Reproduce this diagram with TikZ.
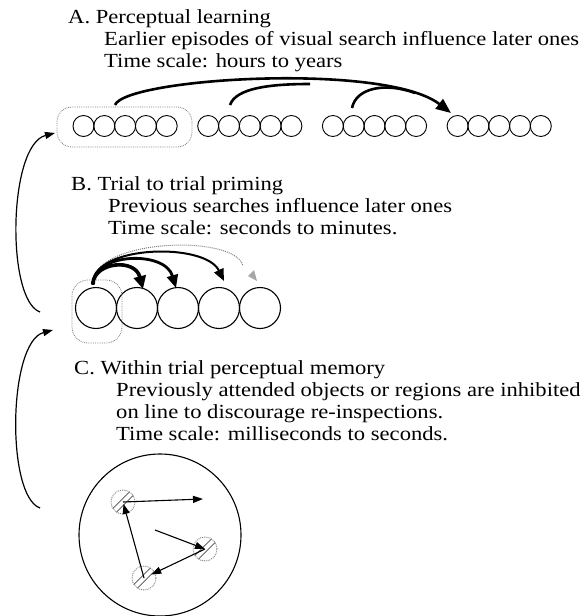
\documentclass[tikz,border=0pt]{standalone}
\usepackage{fontspec}
\setmainfont{Liberation Serif}[FakeStretch=1.13]
\usetikzlibrary{arrows.meta}
\tikzset{
  txt/.style={anchor=base west, inner sep=0pt, font=\fontsize{20}{24}\selectfont},
  smallc/.style={circle, draw, line width=0.9pt, minimum size=21pt, inner sep=0pt},
  bigc/.style={circle, draw, line width=1.1pt, minimum size=41pt, inner sep=0pt},
  dotbox/.style={draw=gray, densely dotted, line width=0.8pt, rounded corners=15pt, inner sep=0pt},
  spot/.style={circle, draw=gray, densely dotted, line width=0.9pt, minimum size=24pt, inner sep=0pt},
  arcA/.style={line width=2.6pt},
  carrow/.style={line width=1.1pt, -{Triangle[length=10pt,width=7pt]}},
  sidearrow/.style={line width=1.2pt, -{Triangle[length=10pt,width=7pt]}},
  hatchband/.pic={
    \draw[gray!60!black, line width=0.7pt] (-6.5,10.1) -- (10.1,-6.5);
    \draw[gray!60!black, line width=0.7pt] (-10.1,6.5) -- (6.5,-10.1);
  }
}
\begin{document}
\begin{tikzpicture}[x=1pt,y=-1pt]
\useasboundingbox (0,0) rectangle (586,616);
\fill[white] (0,0) rectangle (586,616);

% ---------- A ----------
\node[txt] (tA1) at (68,23) {A. Perceptual learning};
\node[txt] (tA2) at (104,45) {Earlier episodes of visual search influence later ones};
\node[txt] (tA3) at (104,67) {Time scale: hours to years};

\foreach \g in {0,...,3}
  \foreach \i in {0,...,4}
    \node[smallc] (a\g\i) at ({83.5+124.7*\g+20.8*\i},126) {};

\node[dotbox, minimum width=135pt, minimum height=40pt] (boxA) at (124.5,127) {};

\coordinate (sA1) at (115,105);
\coordinate (sA2) at (230,105);
\coordinate (sA3) at (352,108);
\coordinate (tipA) at (451,113);
\draw[arcA] (sA2) .. controls (236,88) and (270,84) .. (310,84);
\draw[arcA] (sA3) .. controls (356,88) and (385,82) .. (415,93);
\draw[arcA, -{Triangle[length=15pt,width=12pt]}] (sA1) .. controls (126,78) and (385,62) .. (tipA);

% ---------- B ----------
\node[txt] (tB1) at (71,190) {B. Trial to trial priming};
\node[txt] (tB2) at (108,212) {Previous searches influence later ones};
\node[txt] (tB3) at (108,234) {Time scale: seconds to minutes.};

\foreach \i in {0,...,4}
  \node[bigc] (b\i) at ({96+41*\i},308) {};

\node[dotbox, rounded corners=16pt, minimum width=50pt, minimum height=63pt] (boxB) at (97,311.5) {};

\coordinate (src) at (93,283);
\coordinate (tB4) at (243,266);
\draw[gray, densely dotted, line width=1pt] (src) .. controls (94,238) and (236,234) .. (tB4);
\fill[gray!70] (257,281) -- (248,276) -- (254,270) -- cycle;
\draw[line width=2pt, -{Triangle[length=12pt,width=10pt]}] (src) .. controls (94,245) and (205,242) .. (224,281);
\draw[line width=2.8pt, -{Triangle[length=13pt,width=11pt]}] (src) .. controls (94,253) and (165,250) .. (176,288);
\draw[line width=3.6pt, -{Triangle[length=13pt,width=12pt]}] (src) .. controls (95,262) and (135,258) .. (143,289);
\fill (src) circle (2.2);

% ---------- C ----------
\node[txt] (tC1) at (74,374) {C. Within trial perceptual memory};
\node[txt] (tC2) at (116,396) {Previously attended objects or regions are inhibited};
\node[txt] (tC3) at (116,418) {on line to discourage re-inspections.};
\node[txt] (tC4) at (116,440) {Time scale: milliseconds to seconds.};

\node[circle, draw, line width=1.1pt, minimum size=162pt, inner sep=0pt] (bigC) at (160,535) {};

\node[spot] (c1) at (123,502) {};
\node[spot] (c2) at (205,549) {};
\node[spot] (c3) at (144,578) {};
\pic at (c1.center) {hatchband};
\pic at (c2.center) {hatchband};
\pic at (c3.center) {hatchband};

\coordinate (e1) at (203,499);
\coordinate (f2) at (155,530);
\draw[carrow] (c1.center) -- (e1);
\draw[carrow] (f2) -- (c2.center);
\draw[carrow, shorten >=8pt] (c2.center) -- (c3.center);
\draw[carrow, shorten >=2pt] (c3.center) -- (c1.center);

% ---------- side arrows ----------
\coordinate (la1) at (40,312);
\coordinate (lt1) at (55,133);
\coordinate (la2) at (40,508);
\coordinate (lt2) at (53,330);
\draw[sidearrow] (la1) .. controls (6,300) and (8,145) .. (lt1);
\draw[sidearrow] (la2) .. controls (6,496) and (8,342) .. (lt2);
\end{tikzpicture}
\end{document}
